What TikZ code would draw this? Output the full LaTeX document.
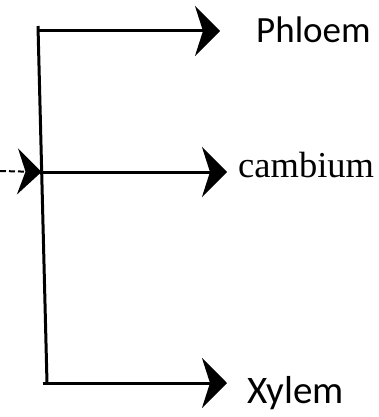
\documentclass[tikz,border=0pt]{standalone}
\usepackage{fontspec}
\setmainfont{Liberation Serif}
\newfontfamily\labelfont{Carlito}
\usetikzlibrary{arrows.meta}
\tikzstyle{tissue} = [inner sep=0pt, anchor=base west, font=\labelfont\fontsize{37}{40}\selectfont]
\tikzstyle{serif tissue} = [inner sep=0pt, anchor=base west, font=\fontsize{36.5}{40}\selectfont]
\tikzstyle{arrow} = [line width=3pt, -{Stealth[length=25pt, width=50pt, inset=8pt]}]
\tikzstyle{feed} = [line width=2pt, dash pattern=on 6pt off 3pt, -{Stealth[length=24pt, width=46pt, inset=8pt]}]

\begin{document}
\begin{tikzpicture}[x=1pt, y=-1pt]
\useasboundingbox (0,0) rectangle (379,417);

\coordinate (stemtop) at (38,26);
\coordinate (stembot) at (47,383);
\coordinate (top) at (38.5,31);
\coordinate (mid) at (41.5,172);
\coordinate (bot) at (43,383);
\coordinate (in) at (0,171);

\node (phloem) [tissue] at (256,43) {Phloem};
\node (cambium) [serif tissue] at (238,177) {cambium};
\node (xylem) [tissue, font=\labelfont\fontsize{39}{40}\selectfont] at (247,403) {Xylem};

\draw [line width=3pt] (stemtop) -- (stembot);
\draw [arrow, shorten >=36pt] (top) -- (top -| phloem.west);
\draw [arrow, shorten >=11pt] (mid) -- (mid -| cambium.west);
\draw [arrow, shorten >=20pt] (bot) -- (bot -| xylem.west);
\draw [feed] (in) -- (mid);

\end{tikzpicture}
\end{document}
